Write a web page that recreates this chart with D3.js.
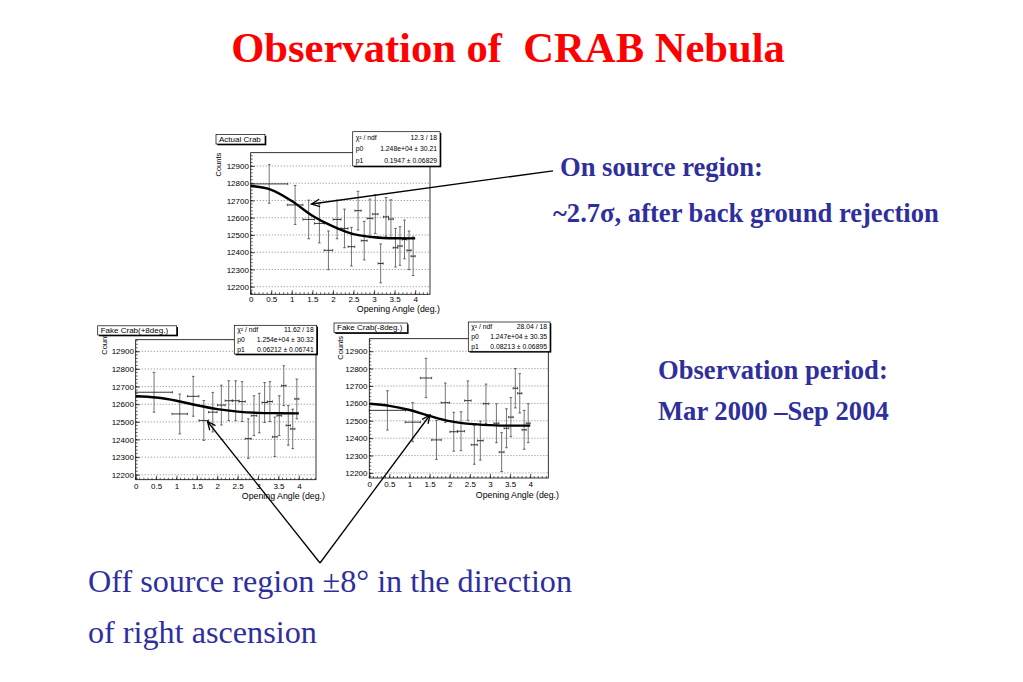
<!DOCTYPE html>
<html>
<head>
<meta charset="utf-8">
<script src="https://cdn.jsdelivr.net/npm/d3@7"></script>
<style>
  html, body { margin: 0; padding: 0; background: #fff; }
  svg { display: block; }
  .slide { font-family: "Liberation Serif", "Times New Roman", serif; }
  .root { font-family: "Liberation Sans", Arial, sans-serif; }
</style>
</head>
<body>
<div id="chart"></div>
<script>
// bin centres and half widths of the opening angle (deg.)
const angleBins = [0.45, 1.08, 1.41, 1.67, 1.89, 2.10, 2.28, 2.45, 2.61, 2.76,
                   2.90, 3.03, 3.16, 3.29, 3.41, 3.52, 3.63, 3.74, 3.85, 3.95];
const binHalfWidth = [0.45, 0.19, 0.14, 0.12, 0.105, 0.095, 0.088, 0.082, 0.077, 0.072,
                      0.069, 0.066, 0.063, 0.061, 0.059, 0.057, 0.055, 0.053, 0.052, 0.050];

const xTicks = [0, 0.5, 1, 1.5, 2, 2.5, 3, 3.5, 4];
const yTicks = [12200, 12300, 12400, 12500, 12600, 12700, 12800, 12900];
const fitAngles = [0, 0.5, 1, 1.5, 2, 2.5, 3, 3.5, 4];

// Actual Crab
const actualCounts = [12796, 12674, 12590, 12567, 12411, 12590, 12538, 12432, 12641, 12467,
                      12596, 12621, 12335, 12605, 12592, 12426, 12436, 12474, 12411, 12377];
const actualErrors = [112, 113, 112, 113, 112, 112, 112, 112, 112, 112,
                      112, 112, 113, 112, 112, 112, 112, 112, 112, 112];
const actualFit = [12784, 12762, 12697, 12612, 12550, 12505, 12487, 12481, 12480];
const actualStats = ["12.3 / 18", "1.248e+04 \u00b1 30.21", "0.1947 \u00b1 0.06829"];

// Fake Crab (+8 deg.)
const plusCounts = [12668, 12545, 12645, 12508, 12555, 12595, 12620, 12620, 12615, 12405,
                    12535, 12550, 12610, 12615, 12415, 12535, 12705, 12480, 12460, 12630];
const plusErrors = [113, 113, 113, 113, 112, 113, 113, 113, 113, 112,
                    113, 112, 113, 113, 112, 113, 113, 112, 112, 113];
const plusFit = [12645, 12638, 12620, 12594, 12572, 12558, 12551, 12549, 12548];
const plusStats = ["11.62 / 18", "1.254e+04 \u00b1 30.32", "0.06212 \u00b1 0.06741"];

// Fake Crab (-8 deg.), bin at 3.03 not visible
const minusCounts = [12560, 12492, 12746, 12390, 12604, 12437, 12440, 12616, 12362, 12386,
                     12598, null, 12486, 12320, 12457, 12521, 12687, 12658, 12448, 12486];
const minusErrors = [113, 112, 113, 112, 113, 112, 112, 113, 112, 112,
                     113, 112, 112, 112, 112, 112, 113, 113, 112, 112];
const minusFit = [12598, 12586, 12562, 12528, 12498, 12482, 12475, 12472, 12472];
const minusStats = ["28.04 / 18", "1.247e+04 \u00b1 30.35", "0.08213 \u00b1 0.06895"];

const statLabels = ["\u03c7\u00b2 / ndf", "p0", "p1"];

const W = 1023, H = 682;
const blue = "#2f2f9c";

const panels = [
  { title: "Actual Crab", counts: actualCounts, errors: actualErrors, fit: actualFit, stats: actualStats,
    frame: { x0: 250.7, x1: 430, y0: 152.7, y1: 294.3 }, xMax: 4.36, yDomain: [12156, 12977],
    titleBox: { x: 216, y: 134.5, w: 49, h: 9.5 }, statsBox: { x: 352.7, y: 131.7, w: 87.3, h: 34.3 },
    countsX: 220.5, countsTop: 152.7, xTitleX: 440, xTitleY: 311.7, xLabelY: 301.7 },
  { title: "Fake Crab(+8deg.)", counts: plusCounts, errors: plusErrors, fit: plusFit, stats: plusStats,
    frame: { x0: 135.7, x1: 316, y0: 339.7, y1: 479.7 }, xMax: 4.42, yDomain: [12172, 12966],
    titleBox: { x: 97.7, y: 325.8, w: 79, h: 9.2 }, statsBox: { x: 234.3, y: 325.3, w: 82.4, h: 28.7 },
    countsX: 106.5, countsTop: 331, xTitleX: 325, xTitleY: 499, xLabelY: 489 },
  { title: "Fake Crab(-8deg.)", counts: minusCounts, errors: minusErrors, fit: minusFit, stats: minusStats,
    frame: { x0: 369.3, x1: 548.3, y0: 338.7, y1: 478 }, xMax: 4.45, yDomain: [12171, 12972],
    titleBox: { x: 334, y: 323, w: 73.3, h: 9.6 }, statsBox: { x: 468.3, y: 322, w: 81.7, h: 29.3 },
    countsX: 342.5, countsTop: 336, xTitleX: 559, xTitleY: 498, xLabelY: 487 }
];

const svg = d3.select("#chart").append("svg")
  .attr("width", W).attr("height", H)
  .attr("viewBox", `0 0 ${W} ${H}`);

svg.append("rect").attr("width", W).attr("height", H).attr("fill", "#fff");

function drawBox(g, b) {
  // ROOT style box with a shadow on the right and bottom
  g.append("rect").attr("x", b.x + 1.3).attr("y", b.y + 1.3)
    .attr("width", b.w).attr("height", b.h).attr("fill", "#000");
  g.append("rect").attr("x", b.x).attr("y", b.y)
    .attr("width", b.w).attr("height", b.h)
    .attr("fill", "#fff").attr("stroke", "#000").attr("stroke-width", 0.7);
}

function drawPanel(p) {
  const g = svg.append("g").attr("class", "root");
  const f = p.frame;

  const x = d3.scaleLinear().domain([0, p.xMax]).range([f.x0, f.x1]);
  const y = d3.scaleLinear().domain(p.yDomain).range([f.y1, f.y0]);

  // dotted grid
  g.append("g").selectAll("line").data(yTicks).join("line")
    .attr("x1", f.x0).attr("x2", f.x1)
    .attr("y1", d => y(d)).attr("y2", d => y(d))
    .attr("stroke", "#555").attr("stroke-width", 0.6)
    .attr("stroke-dasharray", "1.2,1.8");

  // minor ticks
  const xMinor = d3.range(0, p.xMax, 0.1);
  g.append("g").selectAll("line").data(xMinor).join("line")
    .attr("x1", d => x(d)).attr("x2", d => x(d))
    .attr("y1", f.y1).attr("y2", f.y1 - 2)
    .attr("stroke", "#000").attr("stroke-width", 0.6);
  const yMinor = d3.range(12160, p.yDomain[1], 20).filter(v => v > p.yDomain[0]);
  g.append("g").selectAll("line").data(yMinor).join("line")
    .attr("x1", f.x0).attr("x2", f.x0 + 2)
    .attr("y1", d => y(d)).attr("y2", d => y(d))
    .attr("stroke", "#000").attr("stroke-width", 0.6);

  // axes (ticks inside the frame, ROOT style)
  const xAxis = g.append("g")
    .attr("transform", `translate(0,${f.y1})`)
    .call(d3.axisBottom(x).tickValues(xTicks).tickFormat(d3.format("~g"))
      .tickSizeInner(-4).tickSizeOuter(0).tickPadding(0));
  xAxis.select(".domain").remove();
  xAxis.selectAll(".tick line").attr("stroke-width", 0.7);
  xAxis.selectAll(".tick text").attr("y", null).attr("dy", null)
    .attr("transform", `translate(0,${p.xLabelY - f.y1})`)
    .attr("font-size", 8).attr("font-family", "Liberation Sans, Arial, sans-serif").attr("fill", "#000");

  const yAxis = g.append("g")
    .attr("transform", `translate(${f.x0},0)`)
    .call(d3.axisLeft(y).tickValues(yTicks).tickFormat(d3.format("d"))
      .tickSizeInner(-4).tickSizeOuter(0).tickPadding(1.8));
  yAxis.select(".domain").remove();
  yAxis.selectAll(".tick line").attr("stroke-width", 0.7);
  yAxis.selectAll(".tick text")
    .attr("font-size", 8).attr("font-family", "Liberation Sans, Arial, sans-serif").attr("fill", "#000");

  // frame
  g.append("rect").attr("x", f.x0).attr("y", f.y0)
    .attr("width", f.x1 - f.x0).attr("height", f.y1 - f.y0)
    .attr("fill", "none").attr("stroke", "#000").attr("stroke-width", 0.8);

  // data with error bars
  const pts = angleBins.map((a, i) => ({ a: a, hw: binHalfWidth[i], v: p.counts[i], e: p.errors[i] }))
    .filter(d => d.v !== null);
  const pg = g.append("g").selectAll("g").data(pts).join("g");
  pg.append("line")
    .attr("x1", d => x(d.a)).attr("x2", d => x(d.a))
    .attr("y1", d => y(d.v - d.e)).attr("y2", d => y(d.v + d.e))
    .attr("stroke", "#666").attr("stroke-width", 0.9);
  pg.append("line")
    .attr("x1", d => x(d.a) - 1.3).attr("x2", d => x(d.a) + 1.3)
    .attr("y1", d => y(d.v + d.e)).attr("y2", d => y(d.v + d.e))
    .attr("stroke", "#444").attr("stroke-width", 0.8);
  pg.append("line")
    .attr("x1", d => x(d.a) - 1.3).attr("x2", d => x(d.a) + 1.3)
    .attr("y1", d => y(d.v - d.e)).attr("y2", d => y(d.v - d.e))
    .attr("stroke", "#444").attr("stroke-width", 0.8);
  pg.append("line")
    .attr("x1", d => x(d.a - d.hw)).attr("x2", d => x(d.a + d.hw))
    .attr("y1", d => y(d.v)).attr("y2", d => y(d.v))
    .attr("stroke", "#222").attr("stroke-width", 0.9);
  pg.append("line")
    .attr("x1", d => x(d.a - d.hw)).attr("x2", d => x(d.a - d.hw))
    .attr("y1", d => y(d.v) - 1.2).attr("y2", d => y(d.v) + 1.2)
    .attr("stroke", "#222").attr("stroke-width", 0.7);
  pg.append("line")
    .attr("x1", d => x(d.a + d.hw)).attr("x2", d => x(d.a + d.hw))
    .attr("y1", d => y(d.v) - 1.2).attr("y2", d => y(d.v) + 1.2)
    .attr("stroke", "#222").attr("stroke-width", 0.7);

  // fit curve
  const line = d3.line().x(d => x(d[0])).y(d => y(d[1])).curve(d3.curveMonotoneX);
  g.append("path")
    .datum(fitAngles.map((a, i) => [a, p.fit[i]]))
    .attr("d", line)
    .attr("fill", "none").attr("stroke", "#000").attr("stroke-width", 2.4);

  // axis titles
  g.append("text")
    .attr("transform", `translate(${p.countsX},${p.countsTop}) rotate(-90)`)
    .attr("text-anchor", "end").attr("font-size", 7.5).text("Counts");
  g.append("text")
    .attr("x", p.xTitleX).attr("y", p.xTitleY)
    .attr("text-anchor", "end").attr("font-size", 8.8).text("Opening Angle (deg.)");

  // title box
  drawBox(g, p.titleBox);
  g.append("text")
    .attr("x", p.titleBox.x + 3).attr("y", p.titleBox.y + p.titleBox.h - 2.2)
    .attr("font-size", 8).text(p.title);

  // stats box
  const s = p.statsBox;
  drawBox(g, s);
  const rowH = s.h / 3;
  statLabels.forEach((lab, i) => {
    const by = s.y + rowH * (i + 0.5) + 2.4;
    g.append("text").attr("x", s.x + 3).attr("y", by)
      .attr("font-size", 6.8).text(lab);
    g.append("text").attr("x", s.x + s.w - 3).attr("y", by)
      .attr("text-anchor", "end").attr("font-size", 6.8).text(p.stats[i]);
  });
}

panels.forEach(drawPanel);

// arrows
function arrow(from, to) {
  const ang = Math.atan2(from[1] - to[1], from[0] - to[0]);
  const len = 9, spread = 0.42;
  svg.append("line")
    .attr("x1", from[0]).attr("y1", from[1]).attr("x2", to[0]).attr("y2", to[1])
    .attr("stroke", "#000").attr("stroke-width", 1.3);
  svg.append("path")
    .attr("d", `M${to[0] + len * Math.cos(ang - spread)},${to[1] + len * Math.sin(ang - spread)}` +
               `L${to[0]},${to[1]}` +
               `L${to[0] + len * Math.cos(ang + spread)},${to[1] + len * Math.sin(ang + spread)}`)
    .attr("fill", "none").attr("stroke", "#000").attr("stroke-width", 1.3);
}
arrow([553, 170.8], [311.5, 204]);
arrow([320, 563], [207.5, 421.5]);
arrow([320, 563], [430, 415]);

// slide text
const st = svg.append("g").attr("class", "slide");
st.append("text")
  .attr("x", 508).attr("y", 62).attr("text-anchor", "middle")
  .attr("font-size", 42.6).attr("font-weight", "bold").attr("fill", "#ff0000")
  .style("white-space", "pre")
  .text("Observation of  CRAB Nebula");

const boldLines = [
  { t: "On source region:", x: 560, y: 176 },
  { t: "~2.7\u03c3, after back ground rejection", x: 553, y: 221.5 },
  { t: "Observation period:", x: 658, y: 379 },
  { t: "Mar 2000 \u2013Sep 2004", x: 658, y: 420 }
];
st.selectAll("text.b").data(boldLines).join("text")
  .attr("class", "b")
  .attr("x", d => d.x).attr("y", d => d.y)
  .attr("font-size", 26.6).attr("font-weight", "bold").attr("fill", blue)
  .text(d => d.t);

st.append("text").attr("x", 88).attr("y", 592)
  .attr("font-size", 32.2).attr("fill", blue)
  .text("Off source region \u00b18\u00b0 in the direction");
st.append("text").attr("x", 88).attr("y", 643)
  .attr("font-size", 32.2).attr("fill", blue)
  .text("of right ascension");
</script>
</body>
</html>
